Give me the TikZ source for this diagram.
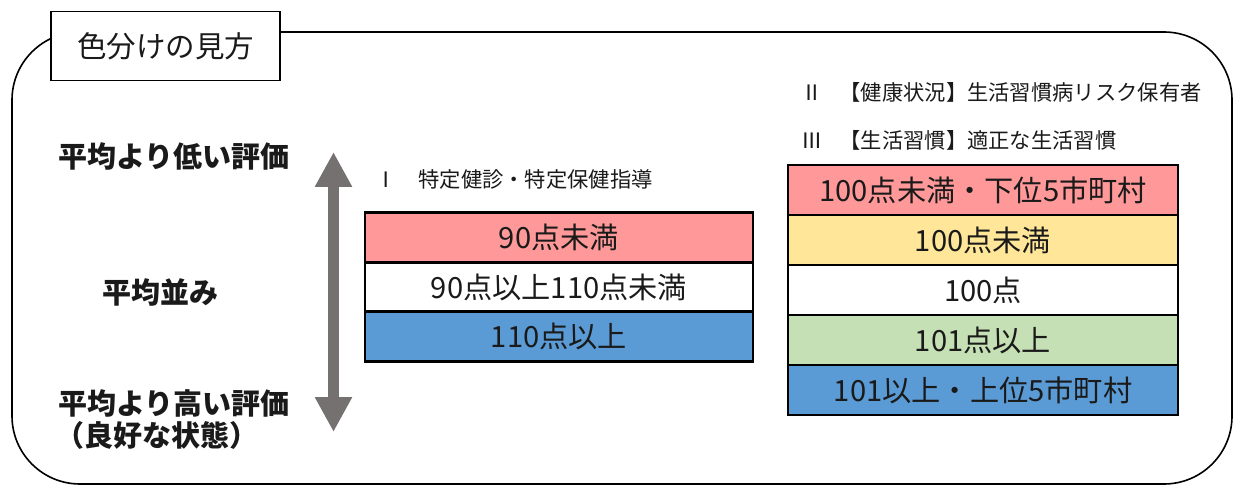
\documentclass[tikz,border=0pt]{standalone}
\usepackage{fontspec}
\setmainfont{Noto Sans CJK JP}
\usetikzlibrary{arrows.meta}
\definecolor{rowpink}{HTML}{FF9999}
\definecolor{rowyellow}{HTML}{FFE699}
\definecolor{rowgreen}{HTML}{C5E0B4}
\definecolor{rowblue}{HTML}{5B9BD5}
\definecolor{arrowgray}{HTML}{767171}
\definecolor{txt}{HTML}{1A1A1A}
\tikzset{
  rowbox/.style={draw=black, line width=2.6pt, inner sep=0pt, text=txt,
    font=\fontsize{29.2}{32}\selectfont},
  lrow/.style={rowbox, minimum width=388pt, minimum height=49.5pt},
  rrow/.style={rowbox, minimum width=390pt, minimum height=50pt},
  sidelabel/.style={inner sep=0pt, text=txt, font=\fontsize{29}{32}\selectfont\bfseries},
  header/.style={inner sep=0pt, anchor=west, text=txt, font=\fontsize{21.3}{24}\selectfont},
}
\begin{document}
\begin{tikzpicture}[x=1pt,y=-1pt]
\useasboundingbox (0,0) rectangle (1237,486);
% outer frame
\draw[line width=1.6pt, rounded corners=68pt] (12,32) rectangle (1232,484);
% title box
\node[draw=black, line width=1.8pt, fill=white, minimum width=229pt, minimum height=69pt,
  inner sep=0pt, font=\fontsize{29.5}{32}\selectfont, text=txt] (title) at (165.5,46) {色分けの見方};
% side labels
\node[sidelabel] (low) at (174,156) {平均より低い評価};
\node[sidelabel] (avg) at (160,292) {平均並み};
\node[sidelabel] (high) at (174,403) {平均より高い評価};
\node[sidelabel, anchor=west] (good) at (55,435) {（良好な状態）};
% arrow
\coordinate (atop) at (333.5,152);
\coordinate (abot) at (333.5,432);
\draw[arrowgray, line width=11pt,
  {Triangle[length=35pt,width=35pt]}-{Triangle[length=35pt,width=35pt]}] (atop) -- (abot);
% left table
\node[header] (h1) at (375,179) {Ⅰ\hspace{22pt}特定健診・特定保健指導};
\node[lrow, fill=rowpink] (l1) at (559,237.5) {90点未満};
\node[lrow, fill=white] (l2) at (559,287) {90点以上110点未満};
\node[lrow, fill=rowblue] (l3) at (559,336.5) {110点以上};
% right table
\node[header] (h2) at (801,92) {Ⅱ\hspace{17pt}【健康状況】生活習慣病リスク保有者};
\node[header] (h3) at (801,140) {Ⅲ\hspace{17pt}【生活習慣】適正な生活習慣};
\node[rrow, fill=rowpink] (r1) at (983,190) {100点未満・下位5市町村};
\node[rrow, fill=rowyellow] (r2) at (983,240) {100点未満};
\node[rrow, fill=white] (r3) at (983,290) {100点};
\node[rrow, fill=rowgreen] (r4) at (983,340) {101点以上};
\node[rrow, fill=rowblue] (r5) at (983,390) {101以上・上位5市町村};
\end{tikzpicture}
\end{document}
